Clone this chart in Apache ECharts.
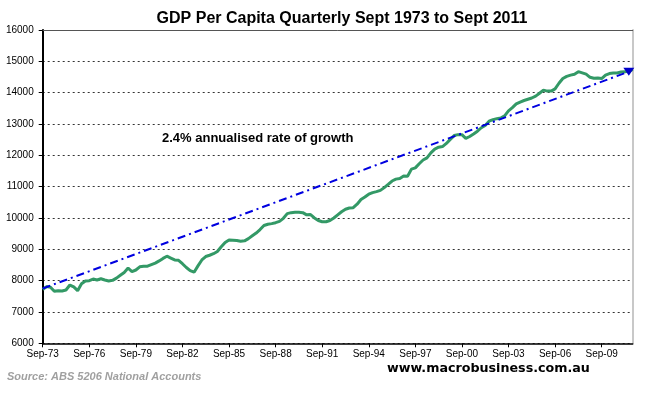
<!DOCTYPE html>
<html>
<head>
<meta charset="utf-8">
<script src="https://cdn.jsdelivr.net/npm/echarts@6/dist/echarts.min.js"></script>
<style>
html,body{margin:0;padding:0;background:#fff;}
#chart{width:660px;height:394px;}
</style>
</head>
<body>
<div id="chart"></div>
<script>
// ---- data ----
var startYear = 73; // first quarter: Sep-73
var quarterMonths = ['Sep', 'Dec', 'Mar', 'Jun'];
var tickLabels = ['Sep-73','Sep-76','Sep-79','Sep-82','Sep-85','Sep-88','Sep-91','Sep-94','Sep-97','Sep-00','Sep-03','Sep-06','Sep-09'];

var gdpPerCapita = [
  7720, 7810, 7790, 7660, 7680, 7670, 7700, 7860, 7800, 7680,
  7900, 7990, 8000, 8050, 8020, 8060, 8020, 7990, 8010, 8080,
  8170, 8260, 8400, 8290, 8340, 8440, 8460, 8460, 8510, 8560,
  8630, 8710, 8780, 8720, 8660, 8650, 8540, 8420, 8320, 8270,
  8470, 8660, 8770, 8810, 8860, 8930, 9080, 9220, 9300, 9290,
  9280, 9255, 9270, 9340, 9430, 9520, 9630, 9760, 9800, 9820,
  9850, 9890, 9990, 10140, 10170, 10180, 10180, 10170, 10100, 10110,
  10000, 9920, 9880, 9880, 9920, 10000, 10100, 10200, 10280, 10320,
  10330, 10440, 10590, 10670, 10760, 10810, 10840, 10880, 10970, 11070,
  11180, 11240, 11260, 11340, 11330, 11560, 11600, 11730, 11850, 11920,
  12080, 12200, 12260, 12280, 12380, 12510, 12630, 12660, 12660, 12540,
  12600, 12680, 12770, 12880, 12950, 13090, 13140, 13170, 13190, 13260,
  13420, 13520, 13640, 13700, 13750, 13790, 13830, 13890, 13980, 14080,
  14050, 14050, 14120, 14300, 14450, 14520, 14560, 14590, 14670, 14630,
  14590, 14490, 14460, 14470, 14450, 14560, 14610, 14630, 14630, 14660,
  14670, 14680, 14740
];

var trendStart = 7750;   // value at Sep-73
var trendEnd = 14670;    // value at arrow head
var trendEndIndex = 151;

// ---- build ----
var categories = gdpPerCapita.map(function (v, i) {
  var yr = (startYear + Math.floor((i + 2) / 4)) % 100;
  return quarterMonths[i % 4] + '-' + (yr < 10 ? '0' + yr : '' + yr);
});

var trendData = categories.map(function () { return null; });
trendData[0] = trendStart;
trendData[trendEndIndex] = trendEnd;

var arrowData = categories.map(function () { return null; });
arrowData[trendEndIndex] = trendEnd;

var FONT = '"Liberation Sans", Arial, sans-serif';
var chart = echarts.init(document.getElementById('chart'), null, { renderer: 'canvas' });

chart.setOption({
  animation: false,
  backgroundColor: '#ffffff',
  title: {
    text: 'GDP Per Capita Quarterly Sept 1973 to Sept 2011',
    left: 337, top: 6, textAlign: 'center',
    textStyle: { fontFamily: FONT, fontSize: 16, fontWeight: 'bold', color: '#000' }
  },
  grid: { left: 42.7, right: 27.3, top: 30, bottom: 50.7, containLabel: false },
  xAxis: [{
    type: 'category',
    data: categories,
    boundaryGap: false,
    axisLine: { lineStyle: { color: '#000', width: 1.5 } },
    axisTick: { interval: 11, length: 4, lineStyle: { color: '#000' } },
    axisLabel: {
      interval: 11, margin: 6, fontFamily: FONT, fontSize: 10, color: '#000',
      formatter: function (v) { return tickLabels.indexOf(v) >= 0 ? v : ''; }
    },
    splitLine: { show: false }
  }, {
    type: 'category',
    data: categories,
    boundaryGap: false,
    position: 'top',
    axisLine: { show: true, lineStyle: { color: '#555', width: 1 } },
    axisTick: { show: false },
    axisLabel: { show: false },
    splitLine: { show: false }
  }],
  yAxis: [{
    type: 'value',
    min: 6000, max: 16000, interval: 1000,
    axisLine: { show: true, lineStyle: { color: '#000', width: 2 } },
    axisTick: { show: true, length: 4, lineStyle: { color: '#000' } },
    axisLabel: {
      margin: 9, fontFamily: FONT, fontSize: 10, color: '#000',
      formatter: function (v) { return String(v); }
    },
    splitLine: { show: true, lineStyle: { color: '#333', type: [2, 3], width: 1 } }
  }, {
    type: 'value',
    min: 6000, max: 16000, interval: 1000,
    position: 'right',
    axisLine: { show: true, lineStyle: { color: '#c8c8c8', width: 2 } },
    axisTick: { show: false },
    axisLabel: { show: false },
    splitLine: { show: false }
  }],
  series: [{
    name: 'GDP per capita',
    type: 'line',
    data: gdpPerCapita,
    symbol: 'none',
    smooth: false,
    lineStyle: { color: '#339966', width: 3 },
    z: 3
  }, {
    name: 'Trend 2.4%',
    type: 'line',
    data: trendData,
    connectNulls: true,
    symbol: 'none',
    lineStyle: { color: '#0000e0', width: 2, type: [8, 4, 2, 4] },
    z: 4
  }, {
    name: 'Trend arrow',
    type: 'scatter',
    data: arrowData,
    symbol: 'path://M0,0L10,0L5,8Z',
    symbolSize: [11, 8],
    itemStyle: { color: '#0000c8', opacity: 1 },
    z: 5
  }],
  graphic: [{
    type: 'text', left: 162, top: 132,
    style: { text: '2.4% annualised rate of growth', fontFamily: FONT, fontSize: 13, fontWeight: 'bold', fill: '#000' }
  }, {
    type: 'text', left: 7, top: 371,
    style: { text: 'Source: ABS 5206 National Accounts', fontFamily: FONT, fontSize: 11, fontWeight: 'bold', fontStyle: 'italic', fill: '#a0a0a0' }
  }, {
    type: 'text', left: 387, top: 362,
    style: { text: 'www.macrobusiness.com.au', fontFamily: '"DejaVu Sans", Verdana, sans-serif', fontSize: 12.7, fontWeight: 'bold', fill: '#000' }
  }]
});
</script>
</body>
</html>
